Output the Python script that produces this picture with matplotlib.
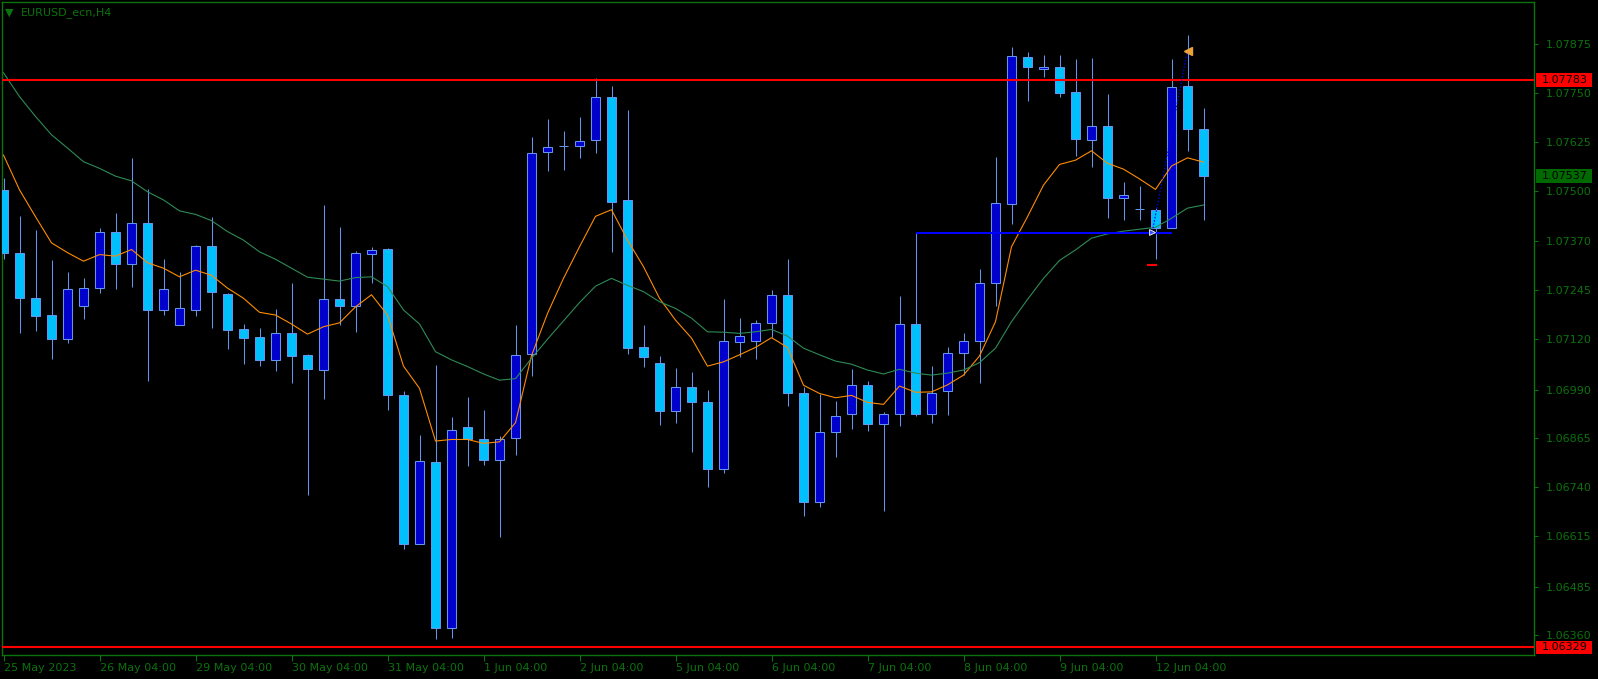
import matplotlib
matplotlib.use('Agg')
import matplotlib.pyplot as plt
import matplotlib.transforms as mtransforms
from matplotlib.patches import Rectangle
import numpy as np

# chart data (EURUSD_ecn, H4)
symbol = 'EURUSD_ecn,H4'

opens = [1.07502, 1.07339, 1.07224, 1.07181, 1.07120, 1.07203, 1.07250, 1.07393, 1.07311, 1.07416,
         1.07194, 1.07155, 1.07195, 1.07357, 1.07234, 1.07144, 1.07125, 1.07067, 1.07134, 1.07079,
         1.07041, 1.07222, 1.07204, 1.07337, 1.07350, 1.06975, 1.06593, 1.06804, 1.06378, 1.06893,
         1.06862, 1.06810, 1.06865, 1.07080, 1.07598, 1.07615, 1.07614, 1.07629, 1.07739, 1.07475,
         1.07098, 1.07057, 1.06934, 1.06996, 1.06957, 1.06786, 1.07111, 1.07114, 1.07160, 1.07232,
         1.06981, 1.06702, 1.06882, 1.06928, 1.07001, 1.06901, 1.06928, 1.07157, 1.06928, 1.06986,
         1.07083, 1.07114, 1.07262, 1.07465, 1.07842, 1.07811, 1.07816, 1.07752, 1.07629, 1.07665,
         1.07480, 1.07452, 1.07449, 1.07405, 1.07767, 1.07657]
highs = [1.07532, 1.07435, 1.07399, 1.07322, 1.07291, 1.07276, 1.07403, 1.07443, 1.07584, 1.07504,
         1.07325, 1.07291, 1.07360, 1.07432, 1.07237, 1.07158, 1.07148, 1.07196, 1.07263, 1.07081,
         1.07463, 1.07407, 1.07346, 1.07355, 1.07353, 1.06986, 1.06873, 1.07053, 1.06920, 1.06971,
         1.06938, 1.06871, 1.07155, 1.07637, 1.07684, 1.07653, 1.07689, 1.07789, 1.07768, 1.07707,
         1.07155, 1.07076, 1.07045, 1.07035, 1.06989, 1.07222, 1.07173, 1.07167, 1.07245, 1.07325,
         1.06996, 1.06979, 1.06961, 1.07043, 1.07012, 1.06932, 1.07230, 1.07392, 1.07050, 1.07099,
         1.07135, 1.07299, 1.07586, 1.07869, 1.07855, 1.07848, 1.07848, 1.07837, 1.07840, 1.07747,
         1.07521, 1.07512, 1.07455, 1.07837, 1.07899, 1.07711]
lows = [1.07324, 1.07136, 1.07141, 1.07069, 1.07110, 1.07172, 1.07238, 1.07249, 1.07252, 1.07013,
        1.07182, 1.07155, 1.07179, 1.07148, 1.07095, 1.07056, 1.07051, 1.07038, 1.07008, 1.06720,
        1.06967, 1.07156, 1.07138, 1.07264, 1.06938, 1.06582, 1.06593, 1.06351, 1.06352, 1.06795,
        1.06797, 1.06613, 1.06823, 1.07025, 1.07551, 1.07554, 1.07584, 1.07597, 1.07343, 1.07082,
        1.07049, 1.06900, 1.06905, 1.06831, 1.06741, 1.06775, 1.07074, 1.07069, 1.07124, 1.06949,
        1.06667, 1.06690, 1.06818, 1.06889, 1.06885, 1.06679, 1.06897, 1.06923, 1.06905, 1.06926,
        1.07027, 1.07008, 1.07204, 1.07415, 1.07730, 1.07790, 1.07741, 1.07589, 1.07561, 1.07431,
        1.07425, 1.07425, 1.07325, 1.07405, 1.07602, 1.07425]
closes = [1.07339, 1.07225, 1.07179, 1.07120, 1.07247, 1.07250, 1.07393, 1.07313, 1.07416, 1.07193,
          1.07247, 1.07198, 1.07357, 1.07239, 1.07143, 1.07123, 1.07067, 1.07134, 1.07077, 1.07043,
          1.07221, 1.07203, 1.07339, 1.07348, 1.06977, 1.06595, 1.06806, 1.06378, 1.06886, 1.06862,
          1.06810, 1.06862, 1.07078, 1.07596, 1.07611, 1.07615, 1.07627, 1.07739, 1.07470, 1.07097,
          1.07073, 1.06934, 1.06996, 1.06957, 1.06786, 1.07114, 1.07126, 1.07160, 1.07232, 1.06981,
          1.06703, 1.06880, 1.06921, 1.07001, 1.06901, 1.06927, 1.07157, 1.06928, 1.06980, 1.07083,
          1.07114, 1.07262, 1.07467, 1.07844, 1.07816, 1.07816, 1.07749, 1.07631, 1.07666, 1.07480,
          1.07488, 1.07452, 1.07405, 1.07765, 1.07657, 1.07537]

# fast (orange) and slow (green) moving averages, per bar
ma_fast = [1.07591, 1.07502, 1.07433, 1.07366, 1.07341, 1.07319, 1.07336, 1.07332, 1.07349, 1.07315,
           1.07301, 1.07279, 1.07296, 1.07283, 1.07250, 1.07224, 1.07188, 1.07181, 1.07158, 1.07132,
           1.07151, 1.07161, 1.07202, 1.07233, 1.07181, 1.07050, 1.06993, 1.06858, 1.06862, 1.06862,
           1.06852, 1.06856, 1.06905, 1.07077, 1.07185, 1.07275, 1.07356, 1.07434, 1.07451, 1.07373,
           1.07305, 1.07224, 1.07168, 1.07122, 1.07050, 1.07061, 1.07079, 1.07098, 1.07123, 1.07098,
           1.07001, 1.06980, 1.06969, 1.06975, 1.06957, 1.06952, 1.06999, 1.06983, 1.06984, 1.07002,
           1.07027, 1.07076, 1.07164, 1.07356, 1.07433, 1.07514, 1.07567, 1.07578, 1.07602, 1.07570,
           1.07555, 1.07530, 1.07503, 1.07563, 1.07584, 1.07573]
ma_slow = [1.07802, 1.07741, 1.07690, 1.07643, 1.07609, 1.07574, 1.07557, 1.07537, 1.07525, 1.07497,
           1.07476, 1.07448, 1.07439, 1.07423, 1.07395, 1.07373, 1.07343, 1.07324, 1.07301, 1.07278,
           1.07273, 1.07268, 1.07277, 1.07279, 1.07254, 1.07194, 1.07158, 1.07087, 1.07066, 1.07049,
           1.07030, 1.07014, 1.07018, 1.07070, 1.07119, 1.07166, 1.07213, 1.07255, 1.07275, 1.07257,
           1.07241, 1.07215, 1.07198, 1.07173, 1.07138, 1.07137, 1.07134, 1.07138, 1.07144, 1.07127,
           1.07096, 1.07079, 1.07063, 1.07055, 1.07040, 1.07030, 1.07042, 1.07032, 1.07027, 1.07032,
           1.07040, 1.07059, 1.07096, 1.07164, 1.07221, 1.07275, 1.07321, 1.07348, 1.07378, 1.07389,
           1.07396, 1.07401, 1.07406, 1.07429, 1.07455, 1.07463]

date_labels = ['25 May 2023', '26 May 04:00', '29 May 04:00', '30 May 04:00', '31 May 04:00',
               '1 Jun 04:00', '2 Jun 04:00', '5 Jun 04:00', '6 Jun 04:00', '7 Jun 04:00',
               '8 Jun 04:00', '9 Jun 04:00', '12 Jun 04:00']
bars_per_label = 6
price_ticks = [1.07875, 1.07750, 1.07625, 1.07500, 1.07370, 1.07245, 1.07120,
               1.06990, 1.06865, 1.06740, 1.06615, 1.06485, 1.06360]

level_prices = [1.07783, 1.06329]   # red horizontal lines
bid_price = 1.07537
support_price = 1.07392             # blue trend line
support_bars = [57, 73]
trade_bars = [71.8, 74.0]           # open / close
trade_prices = [1.07395, 1.07859]
stop_loss = 1.07308

# colours
bg = 'black'
fg = '#0b730b'
bull_col = '#0000cd'
bear_col = '#00bfff'
wick_col = '#6495ed'

W, H = 1598, 679
fig = plt.figure(figsize=(W / 100, H / 100), dpi=100, facecolor=bg)
ax = fig.add_axes([2.3 / W, 24 / H, 1532 / W, 652.7 / H], facecolor=bg)

o = np.array(opens)
h = np.array(highs)
l = np.array(lows)
c = np.array(closes)
x = np.arange(len(o))
up = c >= o

# wicks then bodies
ax.vlines(x, l, h, color=wick_col, lw=0.75, zorder=2)
ax.bar(x[up], (c - o)[up], bottom=o[up], width=0.62, color=bull_col,
       edgecolor=wick_col, lw=0.75, zorder=3)
ax.bar(x[~up], (o - c)[~up], bottom=c[~up], width=0.62, color=bear_col,
       edgecolor=wick_col, lw=0.75, zorder=3)

# moving averages
ax.plot(x, ma_fast, color='#ff8c00', lw=0.8, zorder=4)
ax.plot(x, ma_slow, color='#2e8b57', lw=0.8, zorder=4)

# levels
for p in level_prices:
    ax.axhline(p, color='red', lw=1.5, zorder=5)
ax.hlines(support_price, support_bars[0], support_bars[1], color='#0000ff', lw=1.5, zorder=5)

# trade history
ax.plot(trade_bars, trade_prices, color='#0000ff', lw=0.8, ls=(0, (1.5, 1.5)), zorder=6)
ax.plot(trade_bars[0], trade_prices[0], marker='>', ms=5, color='#3050ff',
        mec='white', mew=0.6, zorder=7)
ax.plot(trade_bars[1], trade_prices[1], marker='<', ms=6, color='#e8a33a', zorder=7)
ax.plot(trade_bars[0], stop_loss, marker='_', ms=7, mew=1.5, color='red', zorder=7)

ax.set_xlim(-0.075, 95.675)
ax.set_ylim(1.0630953, 1.0798266)

# axes look
for s in ax.spines.values():
    s.set_color(fg)
    s.set_linewidth(1)

ax.yaxis.tick_right()
ax.set_yticks(price_ticks)
ax.set_yticklabels([f'{p:.5f}' for p in price_ticks])
ax.tick_params(axis='y', colors=fg, labelcolor=fg, length=3, width=0.8,
               pad=5, labelsize=8)

ax.set_xticks(np.arange(len(date_labels)) * bars_per_label)
ax.set_xticklabels(date_labels, ha='left')
ax.tick_params(axis='x', colors=fg, labelcolor=fg, length=4, width=0.8,
               pad=2, labelsize=8)

# price tags on the scale
tr = mtransforms.blended_transform_factory(ax.transAxes, ax.transData)
tag_h = 13.7 * (ax.get_ylim()[1] - ax.get_ylim()[0]) / 652.7
tags = [(p, 'red') for p in level_prices] + [(bid_price, '#006a00')]
for p, col in tags:
    ax.add_patch(Rectangle((1.0011, p - tag_h / 2), 0.0366, tag_h, transform=tr,
                           facecolor=col, edgecolor='none', clip_on=False, zorder=8))
    ax.text(1.0048, p, f'{p:.5f}', transform=tr, color='black', fontsize=8,
            va='center', ha='left', clip_on=False, zorder=9)

# title
fig.text(5 / W, 1 - 12.5 / H, '\u25bc', color=fg, fontsize=8, va='center', ha='left')
fig.text(21 / W, 1 - 12.5 / H, symbol, color=fg, fontsize=8, va='center', ha='left')

fig.savefig('out.png', dpi=100, facecolor=bg)
